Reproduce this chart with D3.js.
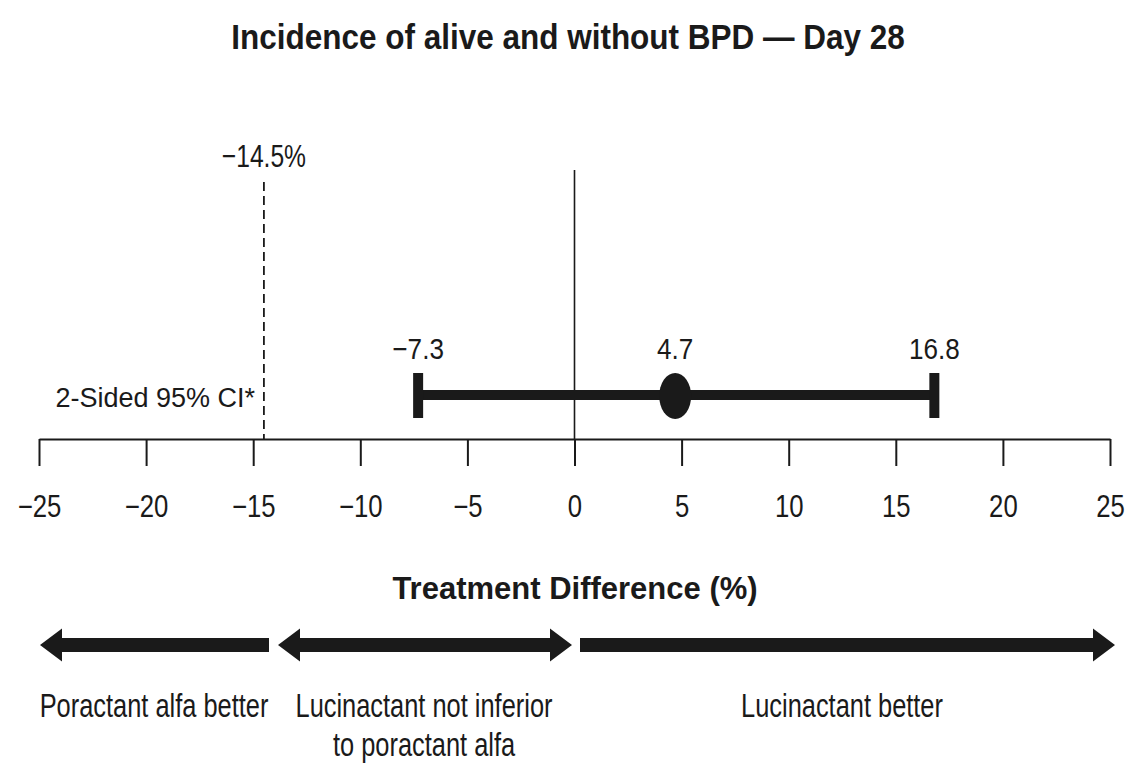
<!DOCTYPE html>
<html><head><meta charset="utf-8">
<script src="https://cdn.jsdelivr.net/npm/d3@7"></script>
<style>
body{margin:0;background:#fff;}
text{font-family:"Liberation Sans",Arial,sans-serif;fill:#1a1a1a;}
</style></head>
<body><svg id="c" width="1130" height="764"></svg>
<script>
const title = "Incidence of alive and without BPD — Day 28";
const xLabel = "Treatment Difference (%)";
const tickValues = [-25,-20,-15,-10,-5,0,5,10,15,20,25];
const pointEstimate = 4.7;
const ciLower = -7.3;
const ciUpper = 16.8;
const marginValue = -14.5;
const ciLabel = "2-Sided 95% CI*";
const regionBounds = [[-25,-14.5],[-14.5,0],[0,25]];
const regionHeads = ["left","both","right"];
const regionLabels = [["Poractant alfa better"],["Lucinactant not inferior","to poractant alfa"],["Lucinactant better"]];

const svg = d3.select("#c");
const x = d3.scaleLinear().domain([-25,25]).range([39,1110]);
const axisY = 439;
const ink = "#1a1a1a";
const fmt = v => v<0 ? "\u2212"+Math.abs(v) : String(v);

function label(px, py, t, size, sx, anchor="middle", weight="normal"){
  return svg.append("text")
    .attr("transform",`translate(${px},${py}) scale(${sx},1)`)
    .attr("text-anchor",anchor).attr("font-size",size).attr("font-weight",weight).text(t);
}

label(568, 49, title, 35, 0.9, "middle", "bold");

const axis = d3.axisBottom(x).tickValues(tickValues).tickSize(27).tickSizeOuter(0).tickFormat(fmt);
const g = svg.append("g").attr("transform",`translate(0,${axisY})`).call(axis);
g.select(".domain").attr("stroke",ink).attr("stroke-width",2);
g.selectAll(".tick line").attr("stroke",ink).attr("stroke-width",2);
g.selectAll(".tick text").attr("y",0).attr("dy",0)
  .attr("transform","translate(0,78) scale(0.83,1)")
  .attr("font-size",31).attr("fill",ink)
  .style("font-family",'"Liberation Sans",Arial,sans-serif');

// zero line
svg.append("line").attr("x1",x(0)).attr("x2",x(0)).attr("y1",170).attr("y2",axisY)
  .attr("stroke",ink).attr("stroke-width",1.6);
// non-inferiority margin
svg.append("line").attr("x1",x(marginValue)).attr("x2",x(marginValue)).attr("y1",182).attr("y2",axisY)
  .attr("stroke",ink).attr("stroke-width",1.8).attr("stroke-dasharray","9,5");
label(x(marginValue), 167, fmt(marginValue)+"%", 32, 0.77);

// CI
const ciY = 395;
svg.append("line").attr("x1",x(ciLower)).attr("x2",x(ciUpper)).attr("y1",ciY).attr("y2",ciY)
  .attr("stroke",ink).attr("stroke-width",10);
[ciLower,ciUpper].forEach(v=>{
  svg.append("rect").attr("x",x(v)-5).attr("y",ciY-22).attr("width",10).attr("height",45).attr("fill",ink);
});
svg.append("ellipse").attr("cx",x(pointEstimate)).attr("cy",ciY+1).attr("rx",16).attr("ry",23).attr("fill",ink);
[ciLower,pointEstimate,ciUpper].forEach(v=>{
  label(x(v), 359, fmt(v), 29, 0.9);
});
label(255, 407, ciLabel, 27, 1.0, "end");

label(575, 599, xLabel, 31, 1.0, "middle", "bold");

// direction arrows
const arrY = 645, shaft = 14, headH = 33, headL = 22;
const arrowEnds = [[40,269],[278,572],[580,1115]];
regionBounds.forEach((b,i)=>{
  const [x0,x1] = arrowEnds[i];
  const hd = regionHeads[i];
  const lh = hd==="left"||hd==="both";
  const rh = hd==="right"||hd==="both";
  const p = d3.path();
  const sx0 = lh ? x0+headL : x0, sx1 = rh ? x1-headL : x1;
  p.moveTo(sx0, arrY-shaft/2);
  p.lineTo(sx1, arrY-shaft/2);
  if(rh){ p.lineTo(sx1, arrY-headH/2); p.lineTo(x1, arrY); p.lineTo(sx1, arrY+headH/2); }
  p.lineTo(sx1, arrY+shaft/2);
  p.lineTo(sx0, arrY+shaft/2);
  if(lh){ p.lineTo(sx0, arrY+headH/2); p.lineTo(x0, arrY); p.lineTo(sx0, arrY-headH/2); }
  p.closePath();
  svg.append("path").attr("d",p.toString()).attr("fill",ink);
});
const labelCenters = [154, 424, 842];
regionLabels.forEach((lines,i)=>{
  lines.forEach((t,j)=>{
    label(labelCenters[i], 717+j*39, t, 33, 0.77);
  });
});
</script></body></html>
